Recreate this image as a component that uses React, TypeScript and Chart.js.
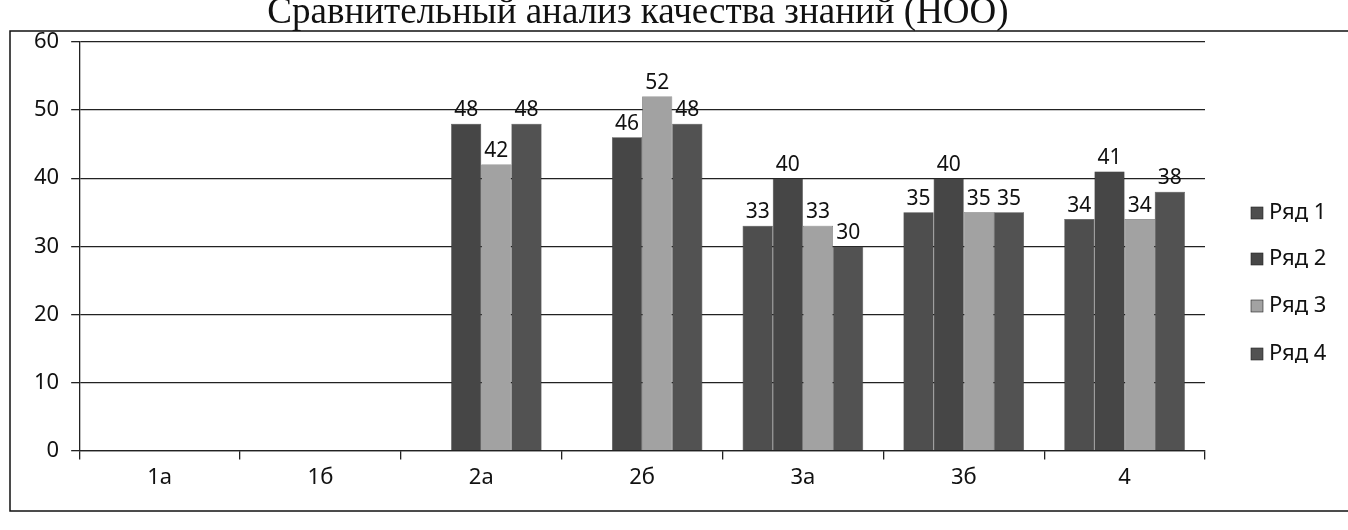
import React, { useEffect, useRef } from "react";
import { Chart, registerables } from "chart.js";

Chart.register(...registerables);

const TITLE = "Сравнительный анализ качества знаний (НОО)";
const categories = ["1а", "1б", "2а", "2б", "3а", "3б", "4"];
const seriesNames = ["Ряд 1", "Ряд 2", "Ряд 3", "Ряд 4"];
const row1 = [null, null, null, null, 33, 35, 34];
const row2 = [null, null, 48, 46, 40, 40, 41];
const row3 = [null, null, 42, 52, 33, 35, 34];
const row4 = [null, null, 48, 48, 30, 35, 38];
const yTicks = [0, 10, 20, 30, 40, 50, 60];

const colors = ["#4e4e4e", "#464646", "#a2a2a2", "#525252"];
const FONT = "'Noto Sans', 'Open Sans', sans-serif";

const framePlugin = {
  id: "frame",
  beforeDraw(chart: any) {
    const ctx = chart.ctx;
    ctx.save();
    ctx.fillStyle = "#ffffff";
    ctx.fillRect(0, 0, chart.width, chart.height);
    ctx.strokeStyle = "#111";
    ctx.lineWidth = 1.5;
    ctx.strokeRect(10, 31, chart.width + 20, 480);
    ctx.restore();
  },
  afterDraw(chart: any) {
    const ctx = chart.ctx;
    ctx.save();
    ctx.fillStyle = "#111";
    ctx.font = "37px 'Liberation Serif', serif";
    ctx.textAlign = "center";
    ctx.textBaseline = "alphabetic";
    ctx.fillText(TITLE, 638, 23);
    // legend
    const ys = [213, 259, 306, 354];
    ctx.font = "22px " + FONT;
    ctx.textAlign = "left";
    ctx.textBaseline = "middle";
    chart.data.datasets.forEach((ds: any, i: number) => {
      const y = ys[i];
      ctx.fillStyle = ds.backgroundColor;
      ctx.fillRect(1251, y - 6, 12, 12);
      ctx.strokeStyle = "#222";
      ctx.lineWidth = 0.6;
      ctx.strokeRect(1251, y - 6, 12, 12);
      ctx.fillStyle = "#111";
      ctx.fillText(ds.label, 1269, y);
    });
    ctx.restore();
  },
};

const labelPlugin = {
  id: "barLabels",
  afterDatasetsDraw(chart: any) {
    const ctx = chart.ctx;
    ctx.save();
    ctx.fillStyle = "#111";
    ctx.font = "21px " + FONT;
    ctx.textAlign = "center";
    ctx.textBaseline = "bottom";
    chart.data.datasets.forEach((ds: any, i: number) => {
      const meta = chart.getDatasetMeta(i);
      meta.data.forEach((bar: any, j: number) => {
        const v = ds.data[j];
        if (v === null || v === undefined) return;
        ctx.fillText(String(v), bar.x, bar.y - 3);
      });
    });
    ctx.restore();
  },
};

export default function App() {
  const ref = useRef<HTMLCanvasElement>(null);
  useEffect(() => {
    if (!ref.current) return;
    const data = [row1, row2, row3, row4];
    const chart = new Chart(ref.current, {
      type: "bar",
      data: {
        labels: categories,
        datasets: seriesNames.map((name, i) => ({
          label: name,
          data: data[i],
          backgroundColor: colors[i],
          borderColor: "#222",
          borderWidth: 0.5,
          categoryPercentage: 0.75,
          barPercentage: 1,
        })),
      },
      options: {
        responsive: false,
        animation: false,
        layout: { padding: { top: 42, left: 22, right: 143, bottom: 34 } },
        plugins: {
          title: { display: false },
          tooltip: { enabled: false },
          legend: { display: false },
        },
        scales: {
          y: {
            min: 0,
            max: 60,
            afterBuildTicks: (axis: any) => {
              axis.ticks = yTicks.map((v) => ({ value: v }));
            },
            ticks: { color: "#111", font: { family: FONT, size: 22 }, padding: 12 },
            grid: { color: "#222", lineWidth: 1.3, tickLength: 8 },
            border: { color: "#222", width: 1.3 },
          },
          x: {
            ticks: { color: "#111", font: { family: FONT, size: 22 }, padding: 5 },
            grid: { drawOnChartArea: false, color: "#222", lineWidth: 1.3, tickLength: 9 },
            border: { color: "#222", width: 1.3 },
          },
        },
      },
      plugins: [framePlugin, labelPlugin],
    });
    return () => chart.destroy();
  }, []);
  return (
    <div style={{ position: "absolute", left: 0, top: 0 }}>
      <canvas ref={ref} width={1348} height={530} />
    </div>
  );
}
